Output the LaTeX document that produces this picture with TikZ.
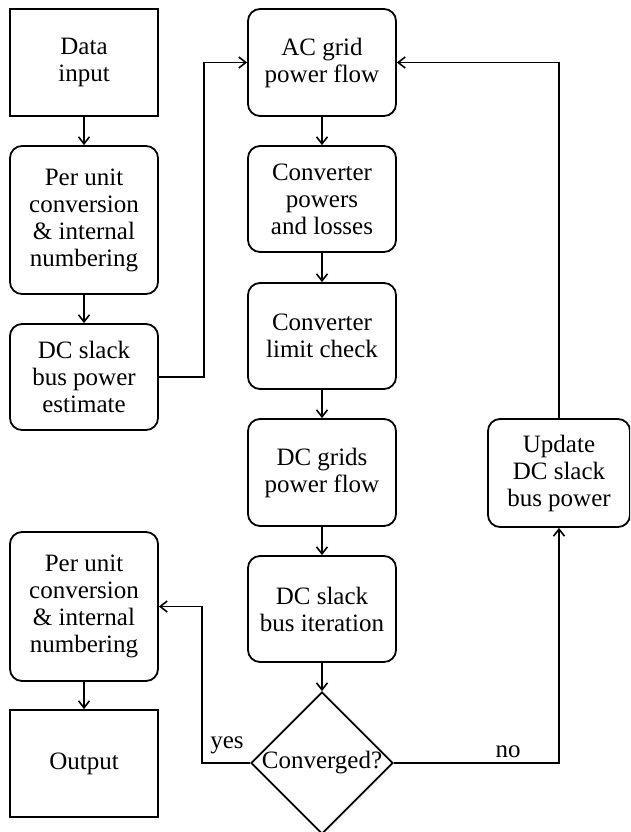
\documentclass[tikz,border=0pt]{standalone}
\usepackage{fontspec}
\setmainfont{Liberation Serif}
\usetikzlibrary{shapes.geometric,arrows.meta}
\tikzset{
  txt/.style={font=\fontsize{25}{27}\selectfont, align=center, inner sep=0pt},
  sqbox/.style={txt, draw, line width=1.8pt, minimum width=148pt},
  rbox/.style={sqbox, rounded corners=12pt},
  decision/.style={draw, line width=1.8pt, shape=diamond, minimum width=142pt, minimum height=142pt, inner sep=0pt},
  conn/.style={line width=1.6pt, -{Straight Barb[length=7pt,width=11pt,line width=1.6pt]}},
  lbl/.style={font=\fontsize{25}{27}\selectfont, inner sep=0pt},
}
\begin{document}
\begin{tikzpicture}[x=1pt,y=-1pt]
\useasboundingbox (0,0) rectangle (630,832);
\clip (0,0) rectangle (630,832);
% left column
\node[sqbox, minimum height=107pt] (data) at (84,62.5) {Data\\input};
\node[rbox, minimum height=148pt] (pu1) at (84,220) {Per unit\\conversion\\\& internal\\numbering};
\node[rbox, minimum height=106pt] (est) at (84,377) {DC slack\\bus power\\estimate};
\node[rbox, minimum height=149pt] (pu2) at (84,606.5) {Per unit\\conversion\\\& internal\\numbering};
\node[sqbox, minimum height=107pt] (out) at (84,763.5) {Output};
% middle column
\node[rbox, minimum height=107pt] (ac) at (322,62.5) {AC grid\\power flow};
\node[rbox, minimum height=106pt] (cpl) at (322,199) {Converter\\powers\\and losses};
\node[rbox, minimum height=106pt] (clc) at (322,336) {Converter\\limit check};
\node[rbox, minimum height=107pt] (dcg) at (322,472.5) {DC grids\\power flow};
\node[rbox, minimum height=106pt] (dcs) at (322,609) {DC slack\\bus iteration};
\node[decision] (dia) at (322,763) {};
\node[txt] (diatext) at (dia.center) {Converged?};
% right column
\node[rbox, minimum width=142pt, minimum height=108pt] (upd) at (559,473) {Update\\DC slack\\bus power};
% connectors
\draw[conn] (data) -- (pu1);
\draw[conn] (pu1) -- (est);
\draw[conn] (est.east) -- ++(45,0) |- (ac.west);
\draw[conn] (ac) -- (cpl);
\draw[conn] (cpl) -- (clc);
\draw[conn] (clc) -- (dcg);
\draw[conn] (dcg) -- (dcs);
\draw[conn] (dcs) -- (dia);
\draw[conn] (dia.east) -| (upd.south);
\draw[conn] (upd.north) |- (ac.east);
\draw[conn] (dia.west) -- ++(-48,0) |- (pu2.east);
\draw[conn] (pu2) -- (out);
% labels
\node[lbl] (yes) at (227,745) {yes};
\node[lbl] (no) at (508,752) {no};
\end{tikzpicture}
\end{document}
